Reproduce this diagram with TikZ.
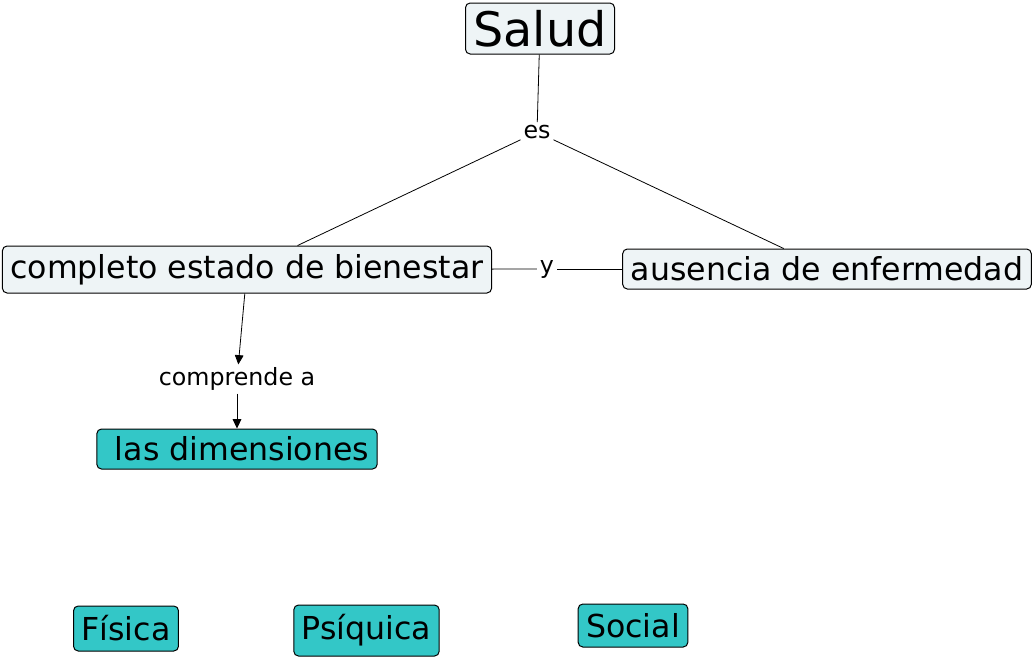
\documentclass[tikz,border=0pt]{standalone}
\usepackage{fontspec}
\setmainfont{DejaVu Sans}
\usetikzlibrary{arrows.meta}
\definecolor{conceptfill}{RGB}{238,244,246}
\definecolor{dimfill}{RGB}{51,199,199}
\begin{document}
\begin{tikzpicture}[x=0.75pt,y=-0.75pt]
\useasboundingbox (0,0) rectangle (1034,658);
\begin{scope}[line width=0.6pt,>={Triangle[length=7pt,width=6.5pt]},
              block1/.style={rectangle,draw,line width=0.75pt,rounded corners=3.5pt,fill=conceptfill,
                             inner xsep=6pt,inner ysep=0pt,font=\fontsize{23.7}{28}\selectfont},
              block2/.style={block1,fill=dimfill},
              block3/.style={rectangle,inner sep=2pt,font=\fontsize{17.8}{21}\selectfont}]
    \node [block1,font=\fontsize{35.7}{42}\selectfont,minimum height=38.25pt] (1) at (540,28.5) {Salud};
    \node [block1,minimum height=35.25pt] (2) at (247,269.5) {completo estado de bienestar};
    \node [block1,minimum height=30pt] (3) at (827,269) {ausencia de enfermedad};
    \node [block2,minimum height=30pt] (4) at (237,449) {\ las dimensiones};
    \node [block2,minimum height=33.75pt] (5) at (126,628.5) {Física};
    \node [block2,minimum height=38.25pt] (6) at (366.5,630.5) {Psíquica};
    \node [block2,minimum height=32.25pt] (7) at (633,625.5) {Social};
    \node [block3] (8) at (537,132) {es};
    \node [block3] (9) at (547,269) {y};
    \node [block3] (10) at (237,379) {comprende a};
    \path (1) edge (8);
    \path (8) edge (2);
    \path (8) edge (3);
    \path (2) edge (9);
    \path (9) edge (3);
    \path (2) edge [->] (10);
    \path (10) edge [->] (4);
\end{scope}
\end{tikzpicture}
\end{document}
